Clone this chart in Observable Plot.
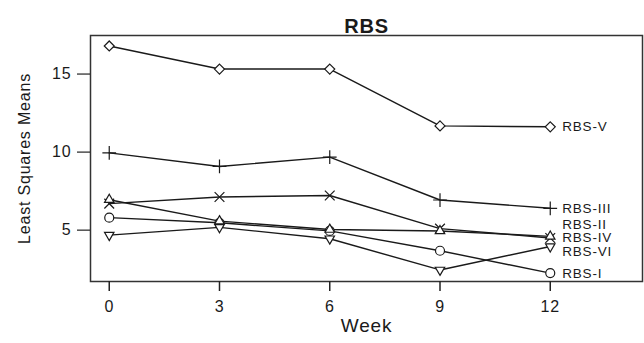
<!DOCTYPE html>
<html>
<head>
<meta charset="utf-8">
<script src="https://cdn.jsdelivr.net/npm/d3@7"></script>
<script src="https://cdn.jsdelivr.net/npm/@observablehq/plot@0.6"></script>
<style>
  html, body { margin: 0; padding: 0; background: #fff; }
  #chart { width: 644px; height: 343px; }
</style>
</head>
<body>
<div id="chart"></div>
<script>
// ---- data ----
const weeks = [0, 3, 6, 9, 12];
const seriesNames = ["RBS-I", "RBS-II", "RBS-III", "RBS-IV", "RBS-V", "RBS-VI"];
const rbsI   = [5.8, 5.47, 4.95, 3.68, 2.25];
const rbsII  = [6.7, 7.12, 7.22, 5.1, 4.5];
const rbsIII = [9.95, 9.08, 9.68, 6.93, 6.4];
const rbsIV  = [6.95, 5.58, 5.04, 4.95, 4.6];
const rbsV   = [16.8, 15.32, 15.32, 11.68, 11.62];
const rbsVI  = [4.68, 5.18, 4.45, 2.45, 3.95];
// end-label positions (spread so labels don't collide)
const labelValues = [2.2, 5.38, 6.4, 4.5, 11.62, 3.62];
const yTicks = [5, 10, 15];
const titleText = "RBS";
const xLabel = "Week";
const yLabel = "Least Squares Means";

const seriesValues = [rbsI, rbsII, rbsIII, rbsIV, rbsV, rbsVI];
const data = [];
seriesNames.forEach((name, i) => {
  weeks.forEach((w, j) => data.push({series: name, week: w, value: seriesValues[i][j]}));
});
const labels = seriesNames.map((name, i) => ({series: name, week: weeks[weeks.length - 1], value: labelValues[i]}));

const triangleDown = {
  draw(context, size) {
    const s = Math.sqrt(size) * 0.6824;
    const t = s / 2;
    const u = s * Math.sqrt(3) / 2;
    context.moveTo(0, s);
    context.lineTo(u, -t);
    context.lineTo(-u, -t);
    context.closePath();
  }
};

const ink = "#1a1a1a";

const chart = Plot.plot({
  width: 644,
  height: 343,
  marginTop: 35,
  marginLeft: 90,
  marginRight: 2,
  marginBottom: 62,
  style: {fontFamily: "'Liberation Sans', Arial, sans-serif", color: ink, background: "#fff", letterSpacing: "0.8px"},
  x: {domain: [-0.51, 14.51]},
  y: {domain: [1.71, 17.47]},
  symbol: {domain: seriesNames, range: ["circle", "times", "plus", "triangle2", "diamond2", triangleDown]},
  marks: [
    Plot.frame({stroke: "#333", strokeWidth: 1.5}),
    Plot.axisX({ticks: weeks, tickSize: 10, tickPadding: 9, fontSize: 16, label: null, stroke: "#222", strokeWidth: 1.5}),
    Plot.axisY({ticks: yTicks, tickSize: 13, tickPadding: 6, fontSize: 16, label: null, tickFormat: d => String(d), stroke: "#222", strokeWidth: 1.2}),
    Plot.line(data, {x: "week", y: "value", z: "series", stroke: ink, strokeWidth: 1.4}),
    Plot.dot(data, {x: "week", y: "value", symbol: "series", r: 4.5, stroke: ink, strokeWidth: 1.2, fill: "white"}),
    Plot.text(labels, {x: "week", y: "value", text: "series", dx: 12, textAnchor: "start", fontSize: 13.5, fill: ink}),
    Plot.text([titleText], {frameAnchor: "top", dy: -17, fontSize: 20, fontWeight: "bold", fill: ink}),
    Plot.text([xLabel], {frameAnchor: "bottom", dy: 50, fontSize: 19, fill: ink}),
    Plot.text([yLabel], {frameAnchor: "left", dx: -66, textAnchor: "middle", rotate: -90, fontSize: 16, fill: ink})
  ]
});
document.getElementById("chart").appendChild(chart);
</script>
</body>
</html>
